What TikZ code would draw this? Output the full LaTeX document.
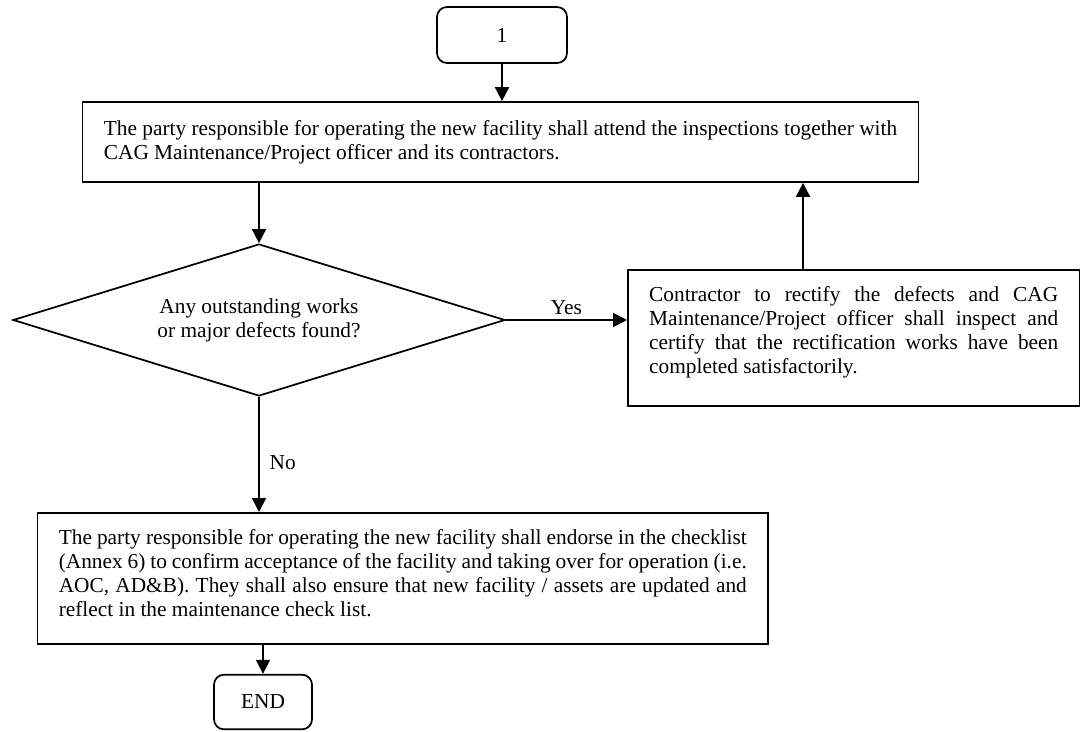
\documentclass[tikz,border=0pt]{standalone}
\usepackage{fontspec}
\setmainfont{Liberation Serif}
\usetikzlibrary{arrows.meta,shapes.geometric}

\begin{document}
\begin{tikzpicture}[
    x=0.75pt, y=-0.75pt,
    every node/.style={font=\fontsize{16pt}{18pt}\selectfont},
    box/.style={rectangle, draw, line width=1.3pt, inner xsep=16pt, align=justify},
    textbox/.style={box, text height=12pt, inner ysep=11.6pt},
    term/.style={rectangle, rounded corners=7.5pt, draw, line width=1.3pt, minimum height=41pt},
    decision/.style={diamond, draw, line width=1.3pt, aspect=3.2, inner sep=0pt, minimum width=369pt, minimum height=114pt, align=center},
    arrow/.style={-{Triangle[length=10.5pt,width=10.5pt]}, line width=1.3pt}
]
\useasboundingbox (0,0) rectangle (1084,731);

\node[term, minimum width=97.5pt, minimum height=42pt] (start) at (502,35) {1};
\node[box, align=left, minimum width=626.25pt, minimum height=60pt] (inspect) at (500.5,142)
    {The party responsible for operating the new facility shall attend the inspections together with\\
     CAG Maintenance/Project officer and its contractors.};
\node[decision] (decide) at (259,320) {Any outstanding works\\or major defects found?};
\node[textbox, anchor=north west, text width=306.75pt, text depth=66.75pt] (rectify) at (627,269)
    {Contractor to rectify the defects and CAG\linebreak
     Maintenance/Project officer shall inspect and\linebreak
     certify that the rectification works have been\linebreak
     completed satisfactorily.};
\node[textbox, anchor=north east, text width=516pt, text depth=63pt] (accept) at (769,512)
    {The party responsible for operating the new facility shall endorse in the checklist\linebreak
     (Annex 6) to confirm acceptance of the facility and taking over for operation (i.e.\linebreak
     AOC, AD\&B). They shall also ensure that new facility / assets are updated and\linebreak
     reflect in the maintenance check list.};
\node[term, minimum width=73.5pt] (finish) at (263,702) {END};
\coordinate (up) at (803,269);

\draw[arrow] (start) -- (start |- inspect.north);
\draw[arrow] (decide.north |- inspect.south) -- (decide.north);
\draw[arrow] (decide.east) -- (decide.east -| rectify.west) node[midway, above] {Yes};
\draw[arrow] (up) -- (up |- inspect.south);
\draw[arrow] (decide.south) -- (decide.south |- accept.north) node[midway, right, xshift=4pt, yshift=-6pt] {No};
\draw[arrow] (finish |- accept.south) -- (finish.north);
\end{tikzpicture}
\end{document}
